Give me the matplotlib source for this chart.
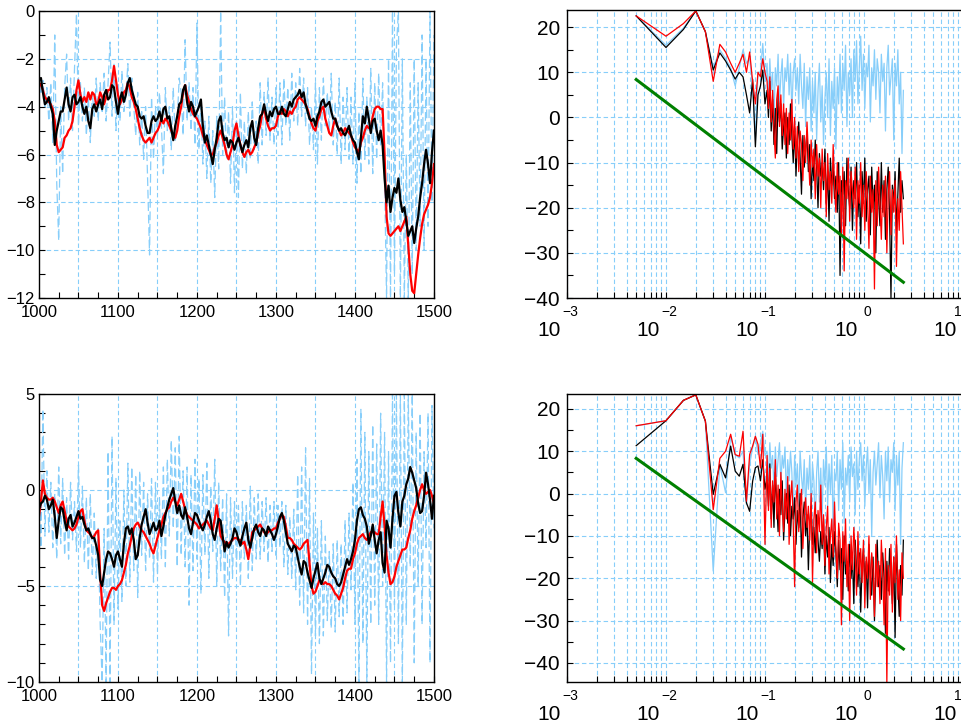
import matplotlib
matplotlib.use("Agg")
import matplotlib.pyplot as plt
import numpy as np
from matplotlib.ticker import MultipleLocator, LogLocator, NullFormatter

plt.rcParams["font.family"] = ["Liberation Sans", "DejaVu Sans"]

SKY = "#87CEFA"
GREEN = "#008000"

# ---------------- time series (years, 2.5-year steps) ----------------
YEARS = np.arange(0, 201) * 2.5 + 1000

TL_BLACK = [
    -2.9, -2.8, -3.4, -3.9, -3.8, -3.6, -4.0, -4.3, -5.6, -5.0,
    -4.6, -4.2, -4.2, -3.7, -3.2, -3.9, -4.2, -3.6, -3.5, -3.9,
    -3.8, -3.6, -4.0, -4.3, -4.0, -4.6, -4.9, -4.1, -3.9, -4.2,
    -3.9, -3.7, -4.1, -3.5, -3.3, -3.7, -3.6, -3.1, -3.2, -3.8,
    -4.3, -3.7, -3.4, -3.8, -3.5, -3.0, -2.8, -3.3, -3.6, -3.9,
    -4.0, -4.4, -4.5, -4.4, -4.8, -5.1, -5.1, -4.6, -4.4, -4.6,
    -4.5, -4.2, -4.6, -4.1, -4.0, -4.5, -4.4, -4.9, -5.4, -4.8,
    -4.4, -3.9, -3.8, -3.3, -3.1, -3.8, -4.2, -3.8, -4.0, -4.4,
    -4.2, -4.0, -3.7, -4.8, -5.5, -5.2, -5.6, -6.0, -6.4, -5.8,
    -5.3, -4.6, -4.4, -5.1, -5.4, -5.3, -5.7, -5.4, -5.5, -5.8,
    -5.5, -5.3, -5.6, -5.9, -5.6, -5.4, -5.7, -4.9, -4.6, -5.3,
    -5.6, -4.9, -4.4, -4.3, -3.9, -4.3, -4.6, -4.2, -4.4, -4.1,
    -4.0, -4.3, -4.3, -4.0, -4.3, -4.4, -4.1, -3.8, -4.0, -3.7,
    -3.6, -3.5, -3.3, -3.6, -3.4, -3.9, -4.2, -4.5, -4.6, -4.5,
    -4.8, -4.4, -4.2, -3.8, -3.7, -4.0, -3.9, -3.8, -4.2, -4.5,
    -4.5, -4.8, -5.0, -4.9, -5.1, -5.2, -5.0, -4.8, -5.2, -5.4,
    -5.5, -5.9, -6.2, -5.3, -4.4, -4.7, -4.0, -4.5, -5.1, -4.6,
    -4.5, -5.0, -5.4, -5.0, -5.6, -7.0, -8.0, -7.3, -8.4, -7.8,
    -7.4, -7.6, -7.0, -7.9, -8.4, -8.2, -8.8, -9.4, -9.2, -9.0,
    -9.7, -9.1, -8.6, -7.8, -7.2, -6.4, -5.8, -6.4, -7.2, -5.9,
    -5.0]
TL_RED = [
    -3.0, -3.1, -3.3, -3.6, -3.7, -3.8, -3.9, -4.1, -4.6, -5.6,
    -5.9, -5.8, -5.7, -5.3, -5.2, -5.0, -4.9, -4.6, -4.0, -3.3,
    -2.9, -3.5, -3.8, -3.6, -3.8, -3.4, -3.7, -3.4, -3.5, -3.9,
    -3.8, -3.4, -3.6, -3.9, -3.6, -3.3, -3.3, -2.9, -2.3, -2.9,
    -3.5, -3.9, -3.7, -3.4, -3.3, -3.0, -3.2, -3.6, -3.8, -4.1,
    -4.5, -4.9, -5.2, -5.4, -5.5, -5.4, -5.3, -5.5, -5.3, -5.1,
    -5.0, -4.8, -4.5, -4.7, -4.5, -4.6, -4.8, -5.0, -5.2, -5.3,
    -5.0, -4.4, -4.0, -3.4, -3.1, -3.5, -3.8, -4.1, -4.3, -4.4,
    -4.5, -4.7, -4.9, -5.2, -5.4, -5.6, -5.8, -6.0, -6.0, -5.7,
    -5.5, -5.2, -5.0, -5.3, -5.6, -6.0, -6.2, -5.9, -5.6, -5.0,
    -4.7, -5.2, -5.6, -5.9, -6.1, -5.9, -5.8, -6.0, -5.9, -5.7,
    -5.5, -5.1, -4.8, -4.3, -4.0, -4.5, -4.8, -5.0, -4.9, -4.9,
    -4.8, -4.4, -4.2, -4.3, -4.1, -4.2, -4.4, -4.2, -4.3, -4.1,
    -4.0, -3.7, -3.6, -3.7, -3.8, -3.9, -4.1, -4.4, -4.7, -4.9,
    -5.0, -4.6, -4.4, -4.1, -4.0, -4.5, -4.8, -5.1, -5.2, -4.8,
    -4.5, -4.8, -5.0, -5.2, -5.1, -4.9, -5.0, -5.1, -5.2, -5.5,
    -5.7, -5.8, -5.9, -5.5, -5.3, -5.0, -4.8, -4.9, -4.9, -4.4,
    -4.1, -4.0, -4.0, -4.1, -4.1, -6.0, -8.6, -9.3, -9.4, -9.3,
    -9.2, -9.1, -9.0, -9.2, -9.0, -8.8, -8.6, -9.8, -11.0, -11.7,
    -11.8, -11.0, -10.2, -9.5, -8.9, -8.5, -8.3, -8.1, -7.8, -7.2,
    -6.4]
TL_BLUE = [
    -2.6, -3.4, -2.9, -4.0, -3.2, -4.6, -3.0, -5.5, -1.0, -7.2,
    -9.6, -4.0, -6.8, -3.2, -1.8, -4.6, -2.8, -5.0, -2.4, -0.1,
    -4.8, -3.0, -4.6, -3.2, -5.2, -3.6, -5.5, -3.4, -4.4, -2.8,
    -4.6, -3.0, -4.2, -2.6, -4.6, -3.0, -1.3, -4.4, -2.2, -5.0,
    -3.0, -4.6, -2.5, -4.2, -3.6, -2.2, -4.4, -2.8, -4.0, -5.2,
    -3.4, -5.6, -4.2, -6.2, -4.0, -7.0, -10.2, -3.6, -6.2, -4.0,
    -5.2, -3.4, -4.8, -6.8, -3.2, -5.0, -4.0, -5.8, -3.2, -5.4,
    -4.6, -2.8, -3.4, -5.2, -1.2, -4.6, -3.0, -5.0, -3.2, -5.6,
    -0.5, -5.8, -3.8, -6.4, -4.6, -7.0, -4.4, -7.2, -5.0, -7.8,
    -4.4, -6.6, 0.0, -6.0, -3.6, -6.2, -4.2, -7.2, -4.0, -7.6,
    -4.6, -7.8, -3.4, -6.6, -4.6, -6.8, -4.2, -6.2, -3.8, -5.8,
    -4.6, -6.4, -3.0, -5.6, -3.4, -5.2, -2.8, -5.4, -3.6, -5.6,
    -3.2, -5.2, -3.0, -5.6, -2.8, -4.8, -3.2, -5.4, -2.6, -4.6,
    -3.0, -4.8, -2.4, -4.4, -2.8, -4.8, -3.2, -5.6, -4.0, -5.8,
    -3.0, -6.4, -3.2, -5.4, -2.8, -4.8, -3.4, -5.0, -2.6, -5.6,
    -3.8, -6.0, -2.8, -6.4, -3.6, -5.8, -3.2, -6.2, -3.6, -6.4,
    -3.0, -7.2, -4.2, -6.8, -2.8, -6.2, -3.6, -6.4, -2.4, -6.8,
    -3.0, -6.2, -2.6, -5.6, -3.0, -7.0, -12.0, -2.0, -12.0, 0.0,
    -11.0, -1.5, 0.0, -12.0, -2.0, -12.0, -6.0, -12.0, -3.0, -11.0,
    -2.0, -10.0, -3.0, -9.0, -1.0, -10.0, -2.0, -9.0, 0.0, -8.0,
    -1.0]

BL_BLACK = [
    -1.0, -0.7, -0.6, -0.3, -0.5, -1.0, -0.8, -0.5, -1.4, -2.5,
    -1.6, -0.9, -1.0, -1.6, -2.1, -1.5, -1.3, -1.9, -1.7, -1.4,
    -1.1, -1.5, -1.4, -1.8, -2.1, -2.0, -2.3, -2.5, -2.5, -2.9,
    -3.4, -4.7, -5.0, -4.3, -3.6, -3.2, -3.3, -3.6, -4.0, -3.4,
    -3.2, -3.6, -4.0, -2.8, -2.0, -1.9, -2.3, -2.0, -2.6, -3.6,
    -3.4, -2.5, -1.8, -1.4, -1.0, -1.7, -2.3, -2.0, -1.7, -2.1,
    -2.0, -1.6, -2.4, -1.9, -1.3, -0.9, -0.5, -0.2, 0.1, -0.6,
    -1.2, -0.8, -1.3, -1.5, -0.9, -1.4, -2.0, -2.3, -1.7, -1.2,
    -1.3, -1.6, -1.9, -2.1, -1.8, -1.4, -1.1, -1.6, -2.3, -2.6,
    -2.0, -1.5, -1.6, -2.4, -3.2, -2.7, -3.0, -2.8, -2.5, -2.0,
    -2.2, -2.6, -2.9, -2.4, -2.0, -1.7, -2.6, -3.0, -2.5, -2.0,
    -1.8, -2.2, -2.4, -2.0, -2.1, -2.4, -1.9, -2.1, -2.3, -2.6,
    -2.3, -1.9, -1.4, -1.2, -1.6, -2.2, -2.8, -3.0, -3.2, -2.9,
    -3.0, -3.5, -4.0, -4.4, -3.7, -3.8, -4.3, -4.7, -5.1, -4.6,
    -4.2, -3.8, -4.6, -4.9, -4.6, -4.3, -3.9, -4.0, -4.3, -4.5,
    -4.6, -4.9, -5.0, -4.8, -4.4, -4.0, -3.6, -3.9, -3.6, -3.2,
    -2.6, -1.6, -1.0, -0.9, -1.3, -1.5, -1.9, -2.8, -2.4, -1.8,
    -2.6, -3.3, -2.6, -2.2, -3.8, -4.3, -1.6, -2.0, -3.0, -1.5,
    -0.3, -0.1, -1.2, -1.9, -0.6, -0.3, 0.3, 0.6, 1.2, 0.9,
    0.5, 0.1, -0.7, -1.2, -1.1, -0.3, 0.9, 0.3, -0.5, -1.5,
    -0.3]
BL_RED = [
    -1.4, -0.6, 0.5, -0.2, -0.4, -0.5, -0.5, -0.4, -0.6, -0.9,
    -1.2, -0.8, -0.6, -1.1, -1.6, -1.9, -2.0, -2.1, -2.0, -1.8,
    -1.4, -1.1, -1.0, -1.6, -2.1, -2.2, -2.3, -2.5, -2.4, -2.2,
    -2.1, -4.4, -6.0, -6.3, -5.9, -5.6, -5.3, -5.1, -5.1, -5.2,
    -5.0, -4.9, -4.7, -4.3, -3.9, -3.3, -2.9, -2.4, -2.0, -1.8,
    -1.7, -1.9, -2.1, -2.2, -2.4, -2.6, -2.8, -3.1, -3.3, -2.9,
    -2.5, -2.1, -1.8, -1.4, -1.2, -1.0, -0.9, -0.6, -0.4, -0.6,
    -0.8, -0.5, -0.2, -0.6, -1.0, -1.3, -1.4, -1.5, -1.6, -1.7,
    -1.8, -2.0, -1.9, -1.8, -1.7, -1.6, -1.8, -2.0, -2.1, -1.5,
    -0.8, -1.6, -2.4, -2.6, -2.7, -2.9, -2.8, -2.7, -2.6, -2.5,
    -2.5, -2.6, -2.6, -2.8, -2.7, -3.1, -3.6, -2.9, -2.2, -2.1,
    -2.0, -1.9, -1.8, -2.0, -2.2, -2.3, -2.2, -2.1, -2.1, -2.0,
    -2.0, -1.7, -1.5, -1.3, -1.4, -1.9, -2.5, -2.5, -2.6, -2.8,
    -2.9, -3.0, -3.1, -3.0, -2.8, -2.7, -2.6, -3.8, -5.0, -5.4,
    -5.3, -5.0, -4.7, -4.8, -4.9, -4.8, -4.9, -4.9, -5.0, -5.2,
    -5.4, -5.5, -5.7, -5.4, -5.1, -4.6, -4.2, -4.1, -4.1, -3.6,
    -3.3, -2.8, -2.5, -2.4, -2.3, -2.5, -2.6, -2.4, -2.2, -2.2,
    -2.2, -2.3, -2.3, -1.4, -0.6, -1.9, -3.4, -4.3, -4.9, -4.8,
    -4.5, -4.0, -3.7, -3.4, -3.1, -3.1, -3.0, -2.5, -2.1, -1.5,
    -1.1, -0.8, -0.4, 0.0, 0.3, 0.0, -0.2, -0.1, 0.0, -0.3,
    -0.7]
BL_BLUE = [
    0.8, -3.0, 4.2, -2.4, 1.0, -2.2, 0.4, -3.0, -0.2, -3.6,
    1.2, -2.8, 0.6, -3.4, -0.4, -3.6, 0.4, -2.6, -0.6, -3.2,
    1.3, -3.0, 0.2, -3.8, -0.4, -4.2, -0.2, -4.4, -1.2, -4.6,
    -2.0, -7.0, -10.0, -2.0, -10.0, 2.0, -10.0, 2.8, -7.0, 0.6,
    -6.2, -1.6, -5.8, 0.0, -5.0, 1.4, -4.8, 1.2, -4.2, 0.8,
    -5.6, 1.0, -3.4, 0.4, -4.2, -0.2, -3.6, 0.6, -4.8, 0.4,
    -4.4, -0.4, -3.6, 1.2, -4.0, 1.6, -2.4, 2.6, -2.0, 2.2,
    -4.0, 2.8, -3.4, 1.0, -4.0, 1.2, -6.0, 0.8, -4.2, 1.6,
    -3.6, 0.6, -5.4, 0.8, -3.4, 1.4, -4.6, 0.2, -3.2, 1.6,
    -5.0, 0.4, -4.2, -0.4, -5.6, -0.2, -7.6, -0.4, -4.6, -0.6,
    -4.0, -0.8, -5.0, -0.6, -3.6, -0.8, -4.6, 0.2, -4.2, -0.4,
    -3.6, -0.2, -3.6, -0.6, -3.2, -0.4, -3.8, -0.8, -3.2, -0.6,
    -3.4, -0.8, -3.0, -0.6, -4.0, -0.8, -4.4, -1.4, -4.6, -1.0,
    -5.2, 0.8, -6.0, 1.2, -6.4, 2.2, -7.0, 0.6, -9.6, -1.2,
    -7.6, -2.0, -8.0, -1.6, -7.6, -2.4, -6.8, -3.2, -7.2, -2.8,
    -7.4, -2.6, -6.6, -2.8, -7.0, -1.6, -6.4, -1.2, -5.2, 0.4,
    -7.0, 1.6, -10.0, 4.2, -8.0, 3.0, -10.0, 2.0, -7.0, 3.4,
    -6.0, 2.4, -7.0, 4.0, -5.0, 3.0, -10.0, 2.0, -9.0, 5.0,
    -6.0, 5.0, -8.0, 5.0, -10.0, 5.0, -7.0, 5.0, -4.0, 5.0,
    -9.0, 3.0, -5.0, 4.0, -7.0, 2.0, -3.0, 4.0, -9.0, 4.4,
    -2.0]

# ---------------- spectra (dB vs frequency) ----------------
FREQ = np.concatenate([np.arange(1, 21) * 0.005, np.geomspace(0.105, 2.5, 100)])

TR_RED = [
    22.5, 18.0, 20.8, 23.6, 19.0, 8.0, 16.2, 14.5, 12.0, 10.0,
    12.0, 14.0, 10.0, 14.5, 8.0, 3.0, 10.0, 9.0, 13.0, 10.0,
    8, 2, 9, -1, 6, -3, -9, 4, 7, -2,
    5, -4, 3, -6, 2, -8, 1, -5, 4, -7,
    0, -9, -2, -12, -3, -6, -14, -4, -10, -1,
    -8, -15, -5, -11, -7, -18, -6, -13, -9, -20,
    -7, -14, -10, -22, -8, -16, -12, -19, -6, -15,
    -21, -10, -17, -13, -26, -11, -34, -14, -18, -9,
    -23, -12, -16, -20, -11, -27, -14, -19, -10, -22,
    -15, -25, -12, -18, -29, -13, -21, -16, -38, -14,
    -24, -11, -19, -27, -15, -22, -13, -30, -17, -12,
    -26, -16, -21, -14, -33, -18, -25, -12, -20, -28]
TR_BLACK = [
    22.5, 15.5, 19.5, 23.6, 19.0, 10.5, 14.3, 12.5, 10.5, 8.5,
    10.0, 9.0, 5.0, 1.0, 8.5, -6.5, 5.0, 7.0, 10.5, 3.0,
    6, 0, 8, -3, 4, -6, 2, -8, 5, -1,
    3, -7, -2, 1, -9, 0, -6, 3, -4, -10,
    -2, -13, -5, -1, -9, -17, -4, -11, -7, -3,
    -12, -6, -18, -9, -14, -5, -11, -20, -8, -13,
    -10, -16, -7, -19, -12, -23, -9, -15, -11, -18,
    -13, -21, -10, -35, -14, -17, -12, -24, -9, -16,
    -20, -11, -25, -14, -18, -10, -22, -15, -28, -12,
    -19, -9, -23, -16, -13, -26, -11, -20, -15, -30,
    -12, -18, -24, -10, -21, -14, -27, -16, -11, -22,
    -40, -15, -19, -12, -25, -17, -9, -21, -14, -18]
TR_BLUE = [
    22.5, 16.0, 19.8, 23.6, 19.0, 11.0, 15.0, 13.0, 11.0, 7.0,
    11.0, 15.0, 12.0, 13.0, 7.0, -5.0, 10.0, 10.0, 16.4, 8.0,
    12, 4, 13, 6, 10, -1, 11, 7, 14, 3,
    9, 13, 2, 11, 8, 14, 5, 12, 1, 10,
    13, 6, 11, 3, 14, 7, 2, 12, -2, 9,
    4, 11, -3, 8, 1, 10, -5, 6, 12, -1,
    7, -6, 4, 10, 0, 13, -4, 8, 2, 11,
    -7, 9, 3, 14, 1, 12, 6, 16, -2, 10,
    5, 13, 0, 15, 8, 17, 3, 11, 18, 6,
    14, 2, 12, 9, 16, -1, 11, 7, 15, 4,
    13, 10, 1, 14, 8, 12, -3, 11, 16, 5,
    9, 13, -5, 12, 7, 15, 3, 10, -8, 6]

BR_RED = [
    16.0, 17.2, 22.0, 23.3, 17.1, -3.8, 8.3, 10.0, 14.0, 9.2,
    8.8, 14.7, -1.8, 9.2, 11.2, 13.5, 11.6, 6.0, 14.0, -12.0,
    9, -4, 6, -8, 3, -2, 8, -6, 2, -10,
    5, -3, -9, 1, -6, 4, -12, -1, 3, -7,
    -22, -2, 2, -9, -4, 1, -13, -5, -1, -8,
    -3, -11, 0, -21, -6, -2, -14, -4, -9, 2,
    -12, -5, -17, -8, -3, -19, -10, -6, -15, -2,
    -13, -20, -7, -11, -31, -9, -16, -6, -22, -12,
    -30, -10, -18, -8, -14, -24, -9, -19, -13, -21,
    -11, -27, -15, -20, -10, -25, -14, -18, -29, -12,
    -22, -16, -26, -11, -19, -31, -13, -45, -17, -24,
    -12, -28, -15, -21, -10, -25, -18, -30, -14, -20]
BR_BLACK = [
    11.3, 17.2, 22.0, 23.3, 17.1, -0.2, 6.9, 3.7, 11.2, 5.3,
    4.1, 6.9, -2.2, -4.2, 2.9, 6.1, 6.5, 3.0, 8.0, 1.0,
    4, -3, 7, -6, 2, -8, 5, -2, -9, 1,
    -5, 3, -11, -4, 0, -7, 2, -10, -3, -6,
    -1, -12, -4, -8, 0, -15, -6, -2, -10, -5,
    -18, -7, -3, -12, -8, -14, -5, -11, -16, -9,
    -13, -6, -19, -10, -15, -8, -21, -12, -17, -9,
    -14, -22, -11, -18, -13, -25, -10, -19, -16, -23,
    -12, -20, -15, -26, -11, -18, -22, -14, -28, -17,
    -13, -21, -16, -27, -12, -19, -24, -15, -30, -18,
    -11, -22, -17, -25, -14, -20, -33, -16, -23, -13,
    -19, -26, -15, -34, -12, -21, -29, -17, -24, -11]
BR_BLUE = [
    16.0, 17.2, 22.0, 23.3, 17.1, -18.3, 6.9, 0.2, 13.5, 9.2,
    8.4, 10.0, -2.6, 6.9, 10.8, 13.5, 9.2, 12.0, 14.7, 9.0,
    10, 3, 12, 6, 9, 1, 11, 4, 8, 12,
    2, 9, 6, 11, -1, 8, 3, 10, 5, -6,
    9, 2, 7, -3, 10, 4, 0, 8, -5, 6,
    1, 9, -4, 7, 3, -8, 5, 10, -2, 6,
    -6, 8, 2, 11, -3, 7, 0, 9, -9, 5,
    3, 10, -4, 8, 1, 12, -7, 6, 2, 9,
    -2, 11, 4, 7, -5, 10, 1, 8, 12, 3,
    9, -3, 6, 11, 0, 8, -10, 5, 10, 2,
    7, 12, -1, 9, 4, -6, 10, 3, 11, -2,
    8, 5, 12, -4, 9, 2, 10, -12, 6, 12]

GREEN_F = [0.005, 2.5]
TR_GREEN = [8.4, -36.5]
BR_GREEN = [8.3, -36.7]

fig = plt.figure(figsize=(9.62, 7.26), dpi=100)

grid_kw = dict(color=SKY, lw=0.8, ls=(0, (4, 2.5)))


def style_time(ax, ylim, ymajor):
    ax.set_xlim(1000, 1500)
    ax.set_ylim(*ylim)
    ax.xaxis.set_major_locator(MultipleLocator(100))
    ax.xaxis.set_minor_locator(MultipleLocator(25))
    ax.yaxis.set_major_locator(MultipleLocator(ymajor))
    ax.yaxis.set_minor_locator(MultipleLocator(1))
    ax.tick_params(which="both", direction="in", top=False, right=False,
                   length=4, width=0.8, labelsize=12)
    ax.tick_params(axis="x", pad=5)
    ax.tick_params(axis="y", pad=3)
    for yv in np.arange(ylim[0] + ymajor, ylim[1], ymajor):
        ax.axhline(yv, zorder=0, **grid_kw)
    for xv in np.arange(1050, 1500, 50):
        ax.axvline(xv, zorder=0, **grid_kw)
    for s in ax.spines.values():
        s.set_linewidth(1.0)


def style_spec(ax, ylim):
    ax.set_xscale("log")
    ax.set_xlim(1e-3, 1e1)
    ax.set_ylim(*ylim)
    ax.xaxis.set_major_locator(LogLocator(base=10, numticks=10))
    ax.xaxis.set_minor_locator(LogLocator(base=10, subs=np.arange(2, 10), numticks=20))
    ax.xaxis.set_major_formatter(NullFormatter())
    ax.xaxis.set_minor_formatter(NullFormatter())
    ax.yaxis.set_major_locator(MultipleLocator(10))
    ax.yaxis.set_minor_locator(MultipleLocator(5))
    ax.tick_params(which="both", direction="in", top=False, right=False,
                   length=4, width=0.8, labelsize=15)
    ax.tick_params(axis="y", pad=5)
    ax.grid(True, which="both", axis="x", **grid_kw)
    ax.grid(True, which="major", axis="y", **grid_kw)
    ax.set_axisbelow(True)
    trans = ax.get_xaxis_transform()
    for k in range(-3, 2):
        ax.text(10 ** (k - 0.185), -0.112, "10", transform=trans, ha="center",
                va="center", fontsize=15, clip_on=False)
        label = str(k).replace("-", "\u2212")
        if k < 1:
            ax.text(10 ** (k + 0.03), -0.05, label, transform=trans,
                    ha="center", va="center", fontsize=10, clip_on=False)
        else:
            ax.text(10 ** (k - 0.01), -0.05, label, transform=trans,
                    ha="right", va="center", fontsize=10, clip_on=False)
    for s in ax.spines.values():
        s.set_linewidth(1.0)


# top-left
ax = fig.add_axes([0.0405, 0.5895, 0.4106, 0.3953])
style_time(ax, (-12, 0), 2)
ax.plot(YEARS, TL_BLUE, color=SKY, lw=0.9, ls=(0, (7, 3)))
ax.plot(YEARS, TL_RED, color="red", lw=1.6)
ax.plot(YEARS, TL_BLACK, color="black", lw=1.6)

# bottom-left
ax = fig.add_axes([0.0405, 0.0606, 0.4106, 0.3967])
style_time(ax, (-10, 5), 5)
ax.plot(YEARS, BL_BLUE, color=SKY, lw=0.9, ls=(0, (7, 3)))
ax.plot(YEARS, BL_RED, color="red", lw=1.6)
ax.plot(YEARS, BL_BLACK, color="black", lw=1.6)

# top-right
ax = fig.add_axes([0.5894, 0.5895, 0.4116, 0.3967])
style_spec(ax, (-40, 23.8))
ax.plot(FREQ, TR_BLUE, color=SKY, lw=0.9)
ax.plot(FREQ, TR_BLACK, color="black", lw=0.9)
ax.plot(FREQ, TR_RED, color="red", lw=0.9)
ax.plot(GREEN_F, TR_GREEN, color=GREEN, lw=2.2)

# bottom-right
ax = fig.add_axes([0.5894, 0.0606, 0.4116, 0.3967])
style_spec(ax, (-44.5, 23.5))
ax.plot(FREQ, BR_BLUE, color=SKY, lw=0.9)
ax.plot(FREQ, BR_BLACK, color="black", lw=0.9)
ax.plot(FREQ, BR_RED, color="red", lw=0.9)
ax.plot(GREEN_F, BR_GREEN, color=GREEN, lw=2.2)

fig.savefig("out.png", dpi=100)
